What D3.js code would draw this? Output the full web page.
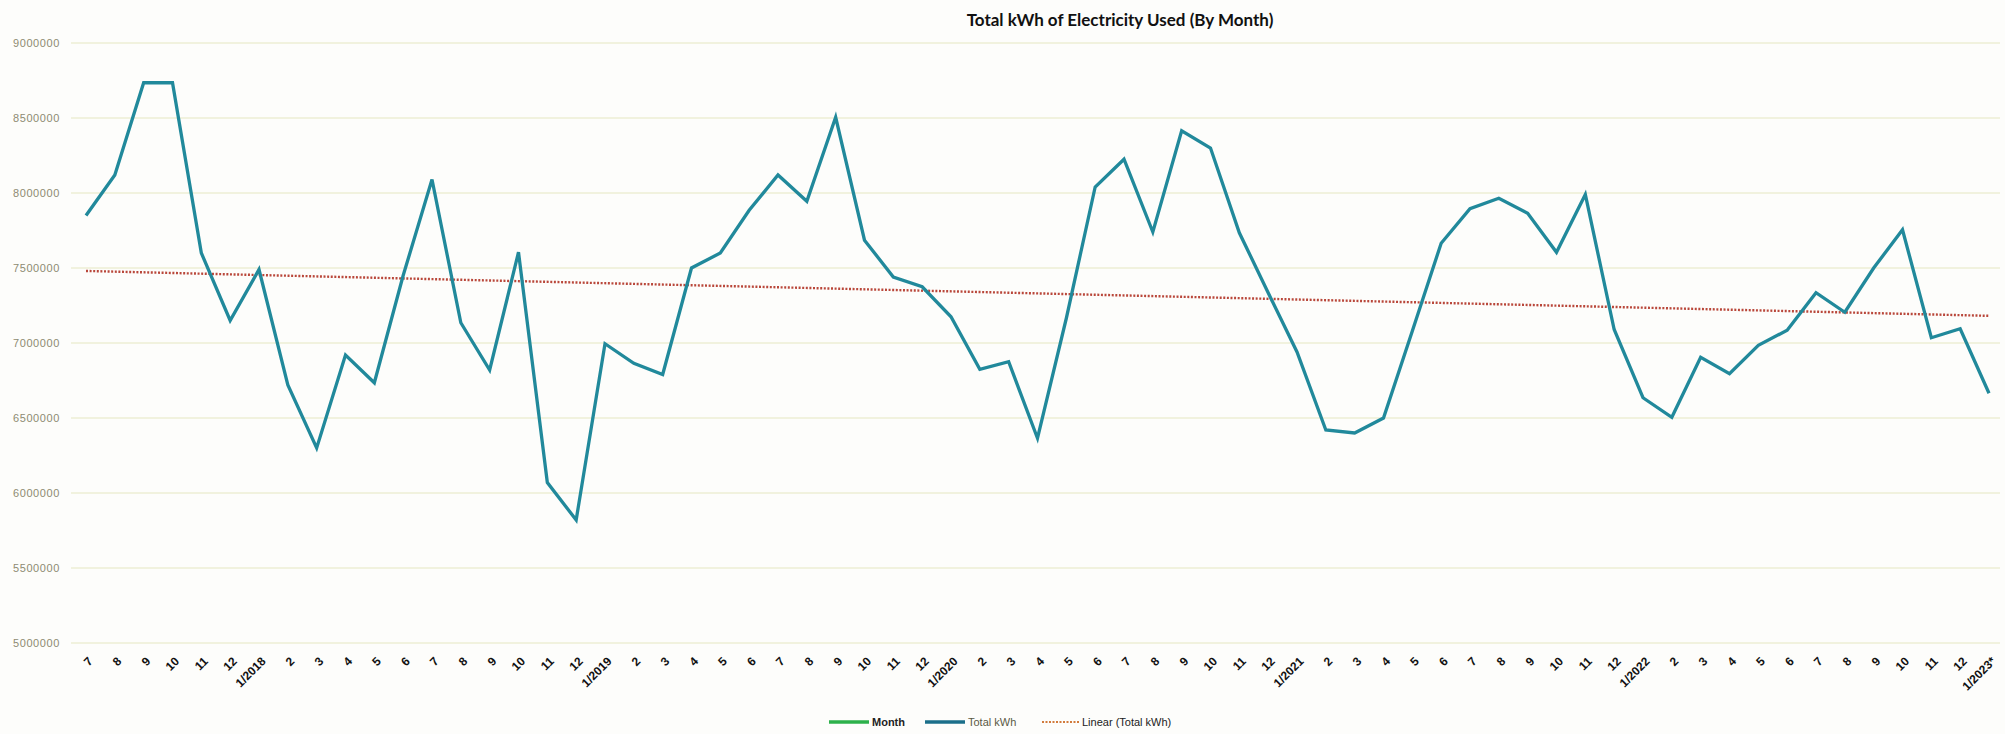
<!DOCTYPE html>
<html>
<head>
<meta charset="utf-8">
<script src="https://cdn.jsdelivr.net/npm/d3@7/dist/d3.min.js"></script>
<style>
  html, body { margin: 0; padding: 0; background: #fdfdfb; }
  svg { display: block; }
</style>
</head>
<body>
<svg id="chart" width="2005" height="734"></svg>
<script>
// ---- data ----
const monthLabels = ["7","8","9","10","11","12",
  "1/2018","2","3","4","5","6","7","8","9","10","11","12",
  "1/2019","2","3","4","5","6","7","8","9","10","11","12",
  "1/2020","2","3","4","5","6","7","8","9","10","11","12",
  "1/2021","2","3","4","5","6","7","8","9","10","11","12",
  "1/2022","2","3","4","5","6","7","8","9","10","11","12",
  "1/2023*"];
const totalKWh = [7850000,8120000,8735000,8735000,7600000,7150000,
  7490000,6720000,6300000,6920000,6735000,7450000,8090000,7135000,6820000,7605000,6070000,5820000,
  6995000,6865000,6790000,7500000,7600000,7885000,8120000,7945000,8505000,7685000,7440000,7375000,
  7175000,6825000,6875000,6365000,7165000,8040000,8225000,7740000,8415000,8300000,7735000,7335000,
  6940000,6420000,6400000,6500000,7080000,7665000,7895000,7965000,7865000,7605000,7990000,7090000,
  6635000,6505000,6905000,6795000,6985000,7085000,7335000,7205000,7500000,7755000,7035000,7095000,
  6665000];
const yTicks = [5000000,5500000,6000000,6500000,7000000,7500000,8000000,8500000,9000000];
const legendItems = ["Month","Total kWh","Linear (Total kWh)"];
const titleText = "Total kWh of Electricity Used (By Month)";

// ---- layout ----
const svg = d3.select("#chart");
const idx = d3.range(totalKWh.length);
const x = d3.scalePoint().domain(idx).range([86, 1989]);
const y = d3.scaleLinear().domain([5000000, 9000000]).range([643, 43]);

// gridlines
svg.append("g").selectAll("line").data(yTicks).join("line")
  .attr("x1", 71).attr("x2", 2000)
  .attr("y1", d => y(d)).attr("y2", d => y(d))
  .attr("stroke", "#eceed4").attr("stroke-width", 1.6);

// y axis labels
const yAxis = d3.axisLeft(y).tickValues(yTicks).tickSize(0).tickPadding(0).tickFormat(d3.format("d"));
const yg = svg.append("g").attr("transform", "translate(60,0)").call(yAxis);
yg.select(".domain").remove();
yg.selectAll("text")
  .attr("font-family", "Liberation Sans, sans-serif")
  .attr("font-size", 11).attr("letter-spacing", 0.6)
  .attr("fill", "#8d8b72");

// x axis labels
const xAxis = d3.axisBottom(x).tickSize(0).tickFormat(i => monthLabels[i]);
const xg = svg.append("g").attr("transform", "translate(0,655)").call(xAxis);
xg.select(".domain").remove();
xg.selectAll("text")
  .attr("font-family", "Liberation Sans, sans-serif")
  .attr("font-size", 12).attr("font-weight", "bold").attr("fill", "#111")
  .attr("text-anchor", "end")
  .attr("transform", "translate(4,4) rotate(-45)")
  .attr("x", 0).attr("y", 0).attr("dy", "0.35em");

// trend line (least squares)
const n = totalKWh.length;
const mx = d3.mean(idx), my = d3.mean(totalKWh);
const slope = d3.sum(idx, i => (i - mx) * (totalKWh[i] - my)) / d3.sum(idx, i => (i - mx) ** 2);
const icpt = my - slope * mx;
const trendPts = [0, n - 1].map(i => [i, icpt + slope * i]);
svg.append("path")
  .datum(trendPts)
  .attr("d", d3.line().x(d => x(d[0])).y(d => y(d[1])))
  .attr("fill", "none").attr("stroke", "#b9473a").attr("stroke-width", 2.4)
  .attr("stroke-dasharray", "2,1.6");

// data line
svg.append("path")
  .datum(idx)
  .attr("d", d3.line().x(i => x(i)).y(i => y(totalKWh[i])))
  .attr("fill", "none").attr("stroke", "#21899b").attr("stroke-width", 3.3)
  .attr("stroke-linejoin", "miter");

// title
svg.append("text").text(titleText)
  .attr("x", 1120).attr("y", 26).attr("text-anchor", "middle")
  .attr("font-family", "Lato, sans-serif").attr("font-size", 17).attr("font-weight", "bold")
  .attr("fill", "#111");

// legend
const legendColors = ["#2db14b", "#1b6f8a", "#d27b3c"];
const legendLineX = [829, 925, 1042];
const legendLineW = [40, 40, 37];
const lg = svg.append("g").attr("transform", "translate(0,722)");
legendItems.forEach((t, k) => {
  lg.append("line")
    .attr("x1", legendLineX[k]).attr("x2", legendLineX[k] + legendLineW[k])
    .attr("y1", 0).attr("y2", 0)
    .attr("stroke", legendColors[k]).attr("stroke-width", k === 2 ? 2 : 3.5)
    .attr("stroke-dasharray", k === 2 ? "2,1.5" : null);
  lg.append("text").text(t)
    .attr("x", legendLineX[k] + legendLineW[k] + 3).attr("y", 0).attr("dy", "0.35em")
    .attr("font-family", "Liberation Sans, sans-serif").attr("font-size", 11)
    .attr("font-weight", k === 0 ? "bold" : "normal")
    .attr("fill", k === 1 ? "#5b5a45" : "#222");
});
</script>
</body>
</html>
